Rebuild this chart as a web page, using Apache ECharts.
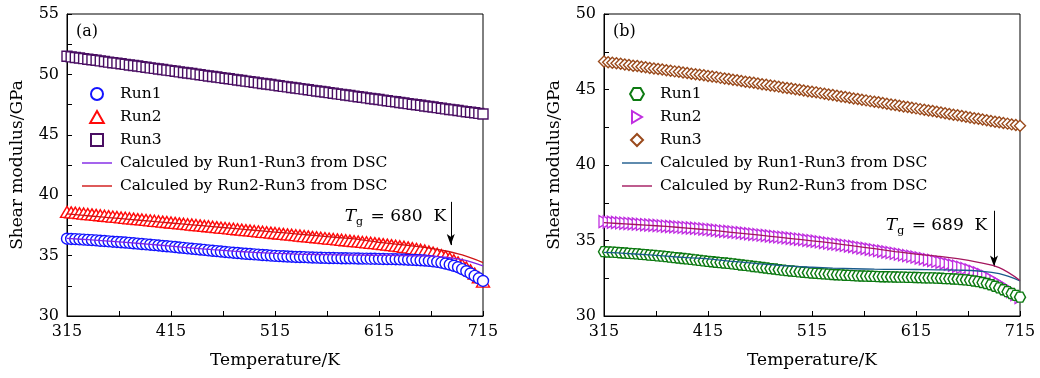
<!DOCTYPE html>
<html><head><meta charset="utf-8">
<script src="https://cdn.jsdelivr.net/npm/echarts@6/dist/echarts.min.js"></script>
<style>html,body{margin:0;padding:0;background:#fff}#c{width:1040px;height:378px}</style>
</head><body><div id="c"></div>
<script>
// ---------- data ----------
const temps = [315,319,323,327,331,335,339,343,347,351,355,359,363,367,371,375,379,383,387,391,395,399,403,407,411,415,419,423,427,431,435,439,443,447,451,455,459,463,467,471,475,479,483,487,491,495,499,503,507,511,515,519,523,527,531,535,539,543,547,551,555,559,563,567,571,575,579,583,587,591,595,599,603,607,611,615,619,623,627,631,635,639,643,647,651,655,659,663,667,671,675,679,683,687,691,695,699,703,707,711,715];
const calcTemps = [315,335,355,375,395,415,435,455,475,495,515,535,555,575,595,615,635,655,675,695,715];

// panel (a)
const aRun1 = [36.40,36.38,36.36,36.34,36.32,36.30,36.28,36.26,36.23,36.21,36.18,36.15,36.13,36.10,36.08,36.05,36.02,35.99,35.96,35.93,35.90,35.87,35.84,35.80,35.77,35.74,35.71,35.67,35.64,35.60,35.57,35.54,35.50,35.47,35.43,35.40,35.37,35.34,35.30,35.27,35.24,35.21,35.18,35.15,35.13,35.10,35.08,35.05,35.03,35.00,34.98,34.96,34.94,34.92,34.91,34.89,34.88,34.87,34.85,34.84,34.83,34.82,34.81,34.80,34.80,34.79,34.78,34.78,34.77,34.77,34.76,34.75,34.75,34.74,34.74,34.73,34.72,34.71,34.71,34.70,34.69,34.68,34.66,34.65,34.63,34.61,34.59,34.56,34.52,34.48,34.42,34.34,34.26,34.16,34.04,33.88,33.71,33.52,33.32,33.12,32.90];
const aRun2 = [38.62,38.58,38.55,38.51,38.48,38.44,38.41,38.37,38.34,38.30,38.27,38.23,38.20,38.16,38.13,38.09,38.06,38.02,37.99,37.95,37.92,37.88,37.85,37.81,37.78,37.74,37.71,37.67,37.64,37.60,37.57,37.53,37.50,37.46,37.43,37.39,37.36,37.32,37.29,37.25,37.22,37.18,37.15,37.11,37.08,37.04,37.01,36.97,36.94,36.90,36.87,36.83,36.80,36.76,36.73,36.69,36.66,36.62,36.59,36.55,36.52,36.48,36.45,36.41,36.38,36.34,36.31,36.27,36.24,36.20,36.17,36.13,36.10,36.06,36.03,35.99,35.95,35.91,35.87,35.82,35.78,35.73,35.68,35.62,35.56,35.49,35.42,35.34,35.25,35.15,35.04,34.92,34.78,34.62,34.44,34.24,34.02,33.78,33.51,33.20,32.85];
const aRun3 = [51.50,51.45,51.40,51.36,51.31,51.26,51.21,51.17,51.12,51.07,51.02,50.97,50.93,50.88,50.83,50.78,50.74,50.69,50.64,50.59,50.54,50.50,50.45,50.40,50.35,50.31,50.26,50.21,50.16,50.11,50.07,50.02,49.97,49.92,49.87,49.83,49.78,49.73,49.68,49.64,49.59,49.54,49.49,49.44,49.40,49.35,49.30,49.25,49.21,49.16,49.11,49.06,49.01,48.97,48.92,48.87,48.82,48.78,48.73,48.68,48.63,48.58,48.54,48.49,48.44,48.39,48.35,48.30,48.25,48.20,48.15,48.11,48.06,48.01,47.96,47.92,47.87,47.82,47.77,47.73,47.68,47.63,47.58,47.53,47.49,47.44,47.39,47.34,47.30,47.25,47.20,47.15,47.10,47.06,47.01,46.96,46.91,46.87,46.82,46.77,46.72];
const aCalc13 = [36.42,36.32,36.20,36.07,35.93,35.78,35.63,35.49,35.37,35.27,35.19,35.13,35.09,35.06,35.04,35.02,35.00,34.97,34.90,34.66,34.15];
const aCalc23 = [38.45,38.30,38.15,38.00,37.85,37.70,37.55,37.40,37.25,37.10,36.95,36.80,36.65,36.50,36.35,36.10,35.92,35.72,35.45,35.05,34.42];

// panel (b)
const bRun1 = [34.26,34.24,34.23,34.21,34.19,34.17,34.15,34.13,34.11,34.08,34.06,34.03,34.01,33.98,33.96,33.93,33.90,33.87,33.84,33.81,33.78,33.75,33.72,33.68,33.65,33.62,33.59,33.56,33.54,33.51,33.48,33.45,33.42,33.38,33.35,33.32,33.28,33.25,33.21,33.18,33.14,33.11,33.07,33.04,33.01,32.98,32.95,32.92,32.90,32.87,32.85,32.83,32.81,32.79,32.77,32.75,32.73,32.72,32.70,32.69,32.67,32.66,32.65,32.64,32.63,32.62,32.61,32.60,32.60,32.59,32.58,32.57,32.57,32.56,32.56,32.55,32.54,32.53,32.53,32.52,32.51,32.50,32.48,32.47,32.45,32.44,32.41,32.39,32.36,32.32,32.28,32.22,32.15,32.07,31.97,31.86,31.74,31.61,31.49,31.37,31.25];
const bRun2 = [36.25,36.23,36.21,36.19,36.17,36.15,36.13,36.11,36.09,36.07,36.05,36.03,36.01,35.99,35.97,35.95,35.93,35.91,35.89,35.87,35.85,35.83,35.81,35.79,35.76,35.74,35.71,35.68,35.65,35.62,35.60,35.57,35.54,35.51,35.48,35.45,35.42,35.39,35.36,35.33,35.30,35.27,35.24,35.21,35.18,35.15,35.12,35.09,35.06,35.02,34.99,34.95,34.91,34.87,34.83,34.79,34.76,34.72,34.68,34.64,34.60,34.56,34.51,34.47,34.42,34.38,34.33,34.29,34.24,34.20,34.15,34.10,34.05,34.00,33.95,33.90,33.84,33.79,33.73,33.68,33.62,33.56,33.49,33.43,33.36,33.30,33.22,33.14,33.05,32.95,32.85,32.73,32.61,32.47,32.31,32.15,31.98,31.81,31.62,31.42,31.22];
const bRun3 = [46.85,46.81,46.77,46.74,46.70,46.66,46.62,46.58,46.55,46.51,46.47,46.43,46.39,46.36,46.32,46.28,46.24,46.20,46.17,46.13,46.09,46.05,46.01,45.98,45.94,45.90,45.86,45.82,45.77,45.73,45.69,45.65,45.61,45.56,45.52,45.48,45.44,45.40,45.35,45.31,45.27,45.23,45.19,45.14,45.10,45.06,45.02,44.98,44.93,44.89,44.85,44.81,44.76,44.72,44.67,44.63,44.59,44.54,44.50,44.45,44.41,44.37,44.32,44.28,44.23,44.19,44.15,44.10,44.06,44.01,43.97,43.93,43.88,43.84,43.79,43.75,43.70,43.66,43.61,43.57,43.52,43.47,43.43,43.38,43.33,43.29,43.24,43.20,43.15,43.10,43.06,43.01,42.97,42.92,42.87,42.83,42.78,42.74,42.69,42.65,42.60];
const bCalc13 = [34.22,34.15,34.06,33.96,33.86,33.78,33.64,33.52,33.40,33.30,33.23,33.17,33.13,33.10,33.09,33.08,33.06,33.04,32.98,32.80,32.33];
const bCalc23 = [36.18,36.10,36.02,35.93,35.82,35.70,35.56,35.42,35.28,35.13,34.98,34.82,34.64,34.46,34.27,34.10,33.97,33.80,33.55,33.20,32.35];

const xTicks = {min: 315, max: 715, interval: 100};
const yTicksA = {min: 30, max: 55, interval: 5};
const yTicksB = {min: 30, max: 50, interval: 5};
const legendNames = ['Run1', 'Run2', 'Run3', 'Calculed by Run1-Run3 from DSC', 'Calculed by Run2-Run3 from DSC'];
const tgA = {label: '680', arrowT: 684, arrowFrom: 39.45, arrowTo: 35.87, textT: 680, textV: 38.2};
const tgB = {label: '689', arrowT: 690, arrowFrom: 36.97, arrowTo: 33.27, textT: 684, textV: 35.96};

// ---------- chart ----------
const FONT = 'DejaVu Serif';
const pairs = (xs, ys) => xs.map((x, i) => [x, ys[i]]);
const SYM = {
  square: 'path://M0,0L10,0L10,10L0,10Z',
  triUp: 'path://M5,0L10,8.8L0,8.8Z',
  diamond: 'path://M5,0L10,5L5,10L0,5Z',
  hexagon: 'path://M-1,0L-0.5,-0.866L0.5,-0.866L1,0L0.5,0.866L-0.5,0.866Z',
  triRight: 'path://M0,0L10,6L0,12Z',
  legendLine: 'path://M0,0L30,0L30,1.4L0,1.4Z'
};
const COL = {
  aRun1: '#1414ff', aRun2: '#ff0a0a', aRun3: '#4a0f63', aCalc13: '#7f22e6', aCalc23: '#d01414',
  bRun1: '#0d7a12', bRun2: '#c02ee0', bRun3: '#9a4a1c', bCalc13: '#1a5a8c', bCalc23: '#a3165e'
};

function axisCommon() {
  return {
    axisLine: {show: true, onZero: false, lineStyle: {color: '#000', width: 1}},
    axisTick: {show: true, inside: true, length: 5, lineStyle: {color: '#000', width: 1}},
    minorTick: {show: true, splitNumber: 2, length: 5, lineStyle: {color: '#000', width: 1}},
    splitLine: {show: false},
    minorSplitLine: {show: false},
    axisLabel: {color: '#000', fontFamily: FONT, fontSize: 16, margin: 8, showMinLabel: true, showMaxLabel: true},
    nameTextStyle: {color: '#000', fontFamily: FONT, fontSize: 17},
    nameLocation: 'middle'
  };
}

const grids = [
  {left: 67, right: 557, top: 14, bottom: 62, show: true, borderColor: '#000', borderWidth: 1},
  {left: 604, right: 20, top: 14, bottom: 62, show: true, borderColor: '#000', borderWidth: 1}
];
const xAxes = [0, 1].map(g => Object.assign(axisCommon(), {
  gridIndex: g, type: 'value', min: xTicks.min, max: xTicks.max, interval: xTicks.interval,
  name: 'Temperature/K', nameGap: 36
}));
const yAxes = [
  Object.assign(axisCommon(), {gridIndex: 0, type: 'value', min: yTicksA.min, max: yTicksA.max, interval: yTicksA.interval, name: 'Shear modulus/GPa', nameGap: 41}),
  Object.assign(axisCommon(), {gridIndex: 1, type: 'value', min: yTicksB.min, max: yTicksB.max, interval: yTicksB.interval, name: 'Shear modulus/GPa', nameGap: 41})
];

function scatter(prefix, g, name, data, symbol, size, color, z) {
  return {
    type: 'scatter', name: prefix + name, xAxisIndex: g, yAxisIndex: g,
    data: data, symbol: symbol, symbolSize: size, symbolKeepAspect: false, z: z,
    itemStyle: {color: '#fff', borderColor: color, borderWidth: 1.4, opacity: 1},
    emphasis: {disabled: true}, silent: true
  };
}
function line(prefix, g, name, data, color, z, extra) {
  return Object.assign({
    type: 'line', name: prefix + name, xAxisIndex: g, yAxisIndex: g,
    data: data, symbol: 'none', smooth: 0.4, z: z, color: color,
    lineStyle: {color: color, width: 1.3}, emphasis: {disabled: true}, silent: true
  }, extra || {});
}
function tgMarks(tg) {
  return {
    markLine: {
      silent: true, symbol: ['none', 'arrow'], symbolSize: [6, 11],
      lineStyle: {color: '#000', width: 1, type: 'solid'}, label: {show: false},
      data: [[{coord: [tg.arrowT, tg.arrowFrom]}, {coord: [tg.arrowT, tg.arrowTo]}]]
    },
    markPoint: {
      silent: true, symbol: 'circle', symbolSize: 1, itemStyle: {color: 'rgba(0,0,0,0)'},
      label: {
        show: true, position: 'left', distance: 0, color: '#000',
        formatter: '{i|T}{s|g}{n| = ' + tg.label + '  K}',
        rich: {
          i: {fontFamily: FONT, fontStyle: 'italic', fontSize: 17, color: '#000', lineHeight: 22, verticalAlign: 'middle'},
          s: {fontFamily: FONT, fontSize: 11, color: '#000', lineHeight: 7, verticalAlign: 'bottom', padding: [0, 2, 0, 0]},
          n: {fontFamily: FONT, fontSize: 17, color: '#000', lineHeight: 22, verticalAlign: 'middle'}
        }
      },
      data: [{coord: [tg.textT, tg.textV]}]
    }
  };
}

const series = [
  scatter('a:', 0, 'Run3', pairs(temps, aRun3), SYM.square, 10, COL.aRun3, 2),
  scatter('a:', 0, 'Run2', pairs(temps, aRun2), SYM.triUp, [13, 11], COL.aRun2, 3),
  scatter('a:', 0, 'Run1', pairs(temps, aRun1), 'circle', 11, COL.aRun1, 4),
  line('a:', 0, legendNames[3], pairs(calcTemps, aCalc13), COL.aCalc13, 5),
  line('a:', 0, legendNames[4], pairs(calcTemps, aCalc23), COL.aCalc23, 6, tgMarks(tgA)),
  scatter('b:', 1, 'Run3', pairs(temps, bRun3), SYM.diamond, 11, COL.bRun3, 2),
  scatter('b:', 1, 'Run2', pairs(temps, bRun2), SYM.triRight, [10, 12], COL.bRun2, 3),
  scatter('b:', 1, 'Run1', pairs(temps, bRun1), SYM.hexagon, [11, 10], COL.bRun1, 4),
  line('b:', 1, legendNames[3], pairs(calcTemps, bCalc13), COL.bCalc13, 5),
  line('b:', 1, legendNames[4], pairs(calcTemps, bCalc23), COL.bCalc23, 6, tgMarks(tgB))
];

function legend(prefix, left, c13, c23) {
  const data = legendNames.map((n, i) => {
    const item = {name: prefix + n};
    if (i === 3 || i === 4) {
      item.icon = SYM.legendLine;
      item.itemStyle = {color: i === 3 ? c13 : c23, borderWidth: 0};
    }
    return item;
  });
  return {
    orient: 'vertical', left: left, top: 86, padding: 0, itemWidth: 30, itemHeight: 12, itemGap: 7,
    symbolKeepAspect: true, selectedMode: false, data: data,
    formatter: n => n.slice(2),
    textStyle: {color: '#000', fontFamily: FONT, fontSize: 15.5, lineHeight: 16, padding: [0, 0, 0, 3]}
  };
}

const chart = echarts.init(document.getElementById('c'), null, {renderer: 'canvas'});
chart.setOption({
  animation: false,
  backgroundColor: '#fff',
  grid: grids, xAxis: xAxes, yAxis: yAxes, series: series,
  legend: [legend('a:', 82, COL.aCalc13, COL.aCalc23), legend('b:', 622, COL.bCalc13, COL.bCalc23)],
  graphic: [
    {type: 'text', left: 76, top: 24, style: {text: '(a)', fontFamily: FONT, fontSize: 16, fill: '#000'}},
    {type: 'text', left: 613, top: 24, style: {text: '(b)', fontFamily: FONT, fontSize: 16, fill: '#000'}}
  ]
});
</script></body></html>
